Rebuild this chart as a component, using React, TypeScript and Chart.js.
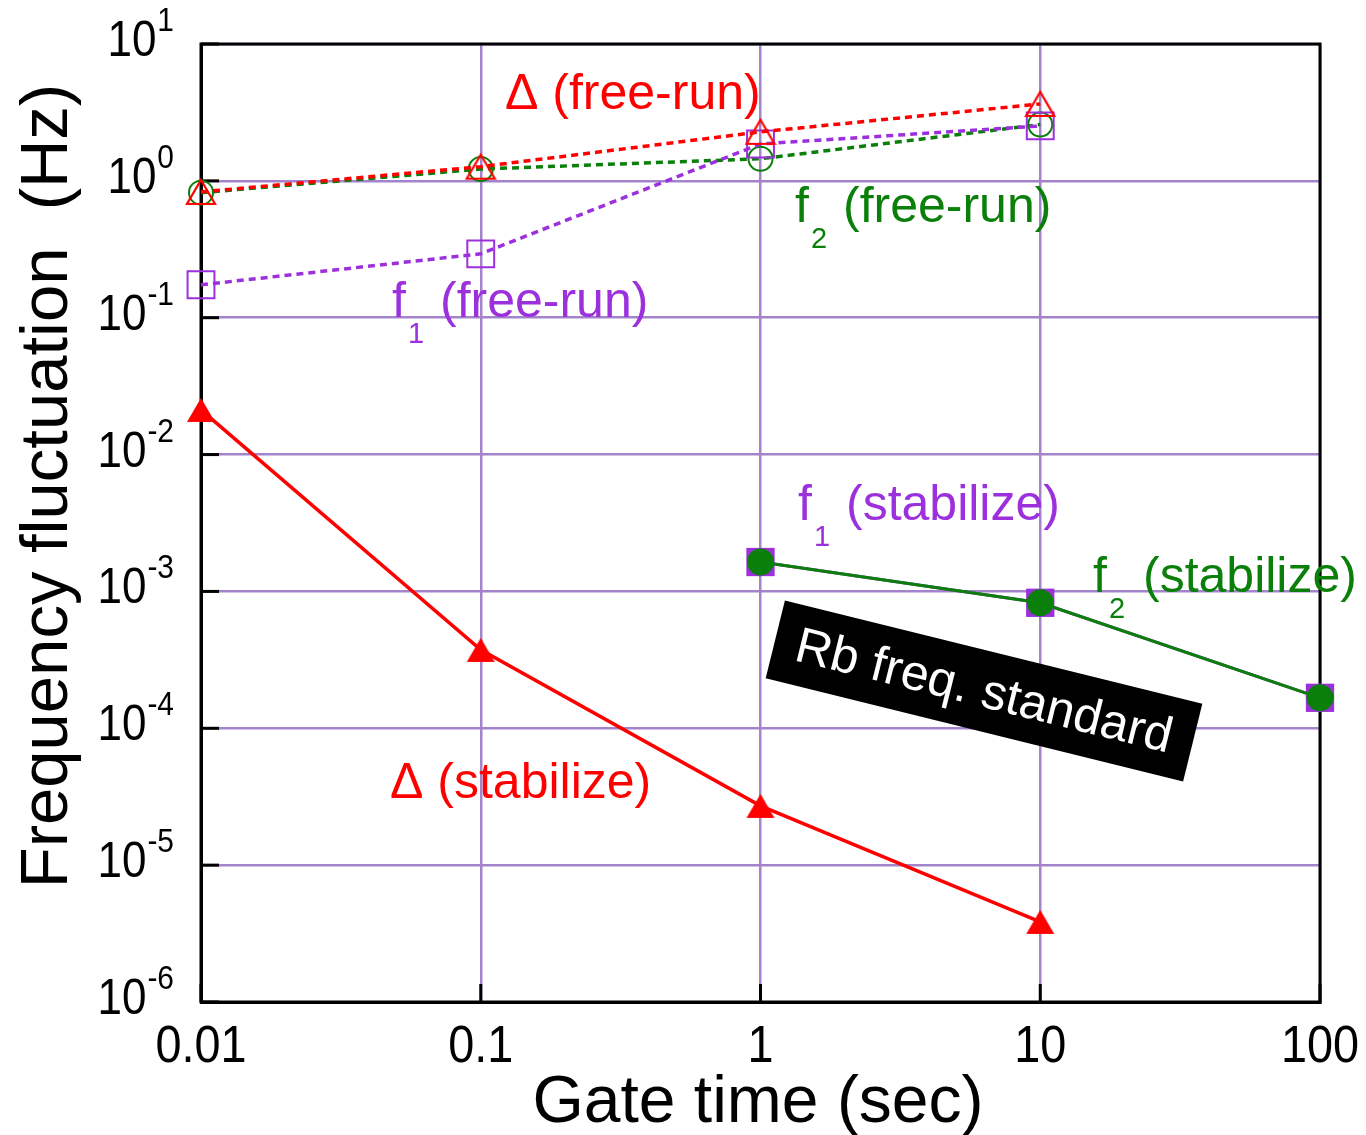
import React, { useEffect, useRef } from 'react';
import { Chart, registerables } from 'chart.js';

Chart.register(...registerables);

// ---- data ----
const freeRunGateTimes = [0.01, 0.1, 1, 10];
const deltaFreeRun = [0.83, 1.27, 2.28, 3.65];
const f1FreeRun = [0.174, 0.293, 1.86, 2.52];
const f2FreeRun = [0.82, 1.22, 1.45, 2.58];

const deltaStabGateTimes = [0.01, 0.1, 1, 10];
const deltaStabilize = [0.0212, 3.74e-4, 2.71e-5, 3.85e-6];

const rbGateTimes = [1, 10, 100];
const f1Stabilize = [1.64e-3, 8.26e-4, 1.67e-4];
const f2Stabilize = [1.64e-3, 8.26e-4, 1.67e-4];

const xTickValues = [0.01, 0.1, 1, 10, 100];
const xTickLabels = ['0.01', '0.1', '1', '10', '100'];
const yExponents = [1, 0, -1, -2, -3, -4, -5, -6];

// ---- styles ----
const RED = '#ff0000';
const GREEN = '#0a800a';
const PURPLE = '#9b30dc';
const GRID = '#a283cc';
const FONT = '"Liberation Sans", Arial, sans-serif';

const pts = (xs: number[], ys: number[]) => xs.map((x, i) => ({ x, y: ys[i] }));

function txt(ctx: CanvasRenderingContext2D, s: string, x: number, y: number, size: number, color: string, align: CanvasTextAlign = 'left', sx = 1) {
  ctx.save();
  ctx.font = `${size}px ${FONT}`;
  ctx.fillStyle = color;
  ctx.textAlign = align;
  ctx.textBaseline = 'alphabetic';
  ctx.translate(x, y);
  ctx.scale(sx, 1);
  ctx.fillText(s, 0, 0);
  ctx.restore();
}

function measure(ctx: CanvasRenderingContext2D, s: string, size: number) {
  ctx.save();
  ctx.font = `${size}px ${FONT}`;
  const w = ctx.measureText(s).width;
  ctx.restore();
  return w;
}

function mkTri(filled: boolean) {
  const c = document.createElement('canvas');
  c.width = 32;
  c.height = 28;
  const g = c.getContext('2d')!;
  g.beginPath();
  g.moveTo(16, 2);
  g.lineTo(30, 26);
  g.lineTo(2, 26);
  g.closePath();
  if (filled) {
    g.fillStyle = RED;
    g.fill();
  } else {
    g.strokeStyle = RED;
    g.lineWidth = 2.2;
    g.stroke();
  }
  return c;
}

export default function App() {
  const ref = useRef<HTMLCanvasElement>(null);

  useEffect(() => {
    const canvas = ref.current!;
    const openTri = mkTri(false);
    const fillTri = mkTri(true);

    const framePlugin = {
      id: 'frame',
      beforeDatasetsDraw(chart: any) {
        const { ctx, chartArea: a, scales } = chart;
        ctx.save();
        ctx.strokeStyle = '#000';
        ctx.lineWidth = 3;
        ctx.strokeRect(a.left, a.top, a.right - a.left, a.bottom - a.top);
        yExponents.forEach((e) => {
          const py = scales.y.getPixelForValue(Math.pow(10, e));
          ctx.beginPath();
          ctx.moveTo(a.left, py);
          ctx.lineTo(a.left + 18, py);
          ctx.stroke();
        });
        xTickValues.forEach((v) => {
          const px = scales.x.getPixelForValue(v);
          ctx.beginPath();
          ctx.moveTo(px, a.bottom);
          ctx.lineTo(px, a.bottom - 18);
          ctx.stroke();
        });
        ctx.restore();
      },
      afterDraw(chart: any) {
        const { ctx, scales } = chart;
        // y tick labels with superscripts
        yExponents.forEach((e) => {
          const py = scales.y.getPixelForValue(Math.pow(10, e));
          const sup = String(e);
          const supW = measure(ctx, sup, 34) * 0.88;
          txt(ctx, sup, 174 - supW, py - 13, 34, '#000', 'left', 0.88);
          txt(ctx, '10', 174 - supW - 1, py + 12, 50, '#000', 'right', 0.88);
        });
        // x tick labels
        xTickValues.forEach((v, i) => {
          const px = scales.x.getPixelForValue(v);
          txt(ctx, xTickLabels[i], px, 1062, 52, '#000', 'center', 0.9);
        });
        // axis titles
        txt(ctx, 'Gate time (sec)', 758, 1122, 66, '#000', 'center');
        ctx.save();
        ctx.translate(67, 486);
        ctx.rotate(-Math.PI / 2);
        txt(ctx, 'Frequency fluctuation  (Hz)', 0, 0, 67, '#000', 'center');
        ctx.restore();

        // annotations
        const F = 50;
        const S = 29;
        txt(ctx, '\u0394 (free-run)', 505, 109, F, RED);
        txt(ctx, '\u0394 (stabilize)', 390, 798, F, RED);

        const sub = (x: number, y: number, d: string, rest: string, color: string, restX: number) => {
          txt(ctx, 'f', x, y, F, color);
          txt(ctx, d, x + 16, y + 26, S, color);
          txt(ctx, rest, restX, y, F, color);
        };
        sub(392, 317, '1', '(free-run)', PURPLE, 440);
        sub(795, 222, '2', '(free-run)', GREEN, 843);
        sub(798, 520, '1', '(stabilize)', PURPLE, 846);
        sub(1093, 592, '2', '(stabilize)', GREEN, 1143);

        // Rb freq. standard box
        ctx.save();
        ctx.translate(984, 691);
        ctx.rotate((13.9 * Math.PI) / 180);
        ctx.fillStyle = '#000';
        ctx.fillRect(-215, -40, 430, 80);
        ctx.font = `50px ${FONT}`;
        ctx.fillStyle = '#fff';
        ctx.textAlign = 'center';
        ctx.textBaseline = 'middle';
        ctx.fillText('Rb freq. standard', 0, 2);
        ctx.restore();
      },
    };

    const chart = new Chart(canvas, {
      type: 'line',
      data: {
        datasets: [
          {
            label: 'Δ (free-run)',
            data: pts(freeRunGateTimes, deltaFreeRun),
            borderColor: RED,
            borderWidth: 3.5,
            borderDash: [7, 5],
            pointStyle: openTri as any,
            pointRadius: 14,
            clip: false,
          },
          {
            label: 'f1 (free-run)',
            data: pts(freeRunGateTimes, f1FreeRun),
            borderColor: PURPLE,
            borderWidth: 3.5,
            borderDash: [7, 5],
            pointStyle: 'rect',
            pointRadius: 19,
            pointBorderWidth: 2,
            pointBorderColor: PURPLE,
            pointBackgroundColor: 'rgba(0,0,0,0)',
            clip: false,
          },
          {
            label: 'f2 (free-run)',
            data: pts(freeRunGateTimes, f2FreeRun),
            borderColor: GREEN,
            borderWidth: 3.5,
            borderDash: [7, 5],
            pointStyle: 'circle',
            pointRadius: 12,
            pointBorderWidth: 2,
            pointBorderColor: GREEN,
            pointBackgroundColor: 'rgba(0,0,0,0)',
            clip: false,
          },
          {
            label: 'Δ (stabilize)',
            data: pts(deltaStabGateTimes, deltaStabilize),
            borderColor: RED,
            borderWidth: 3.5,
            pointStyle: fillTri as any,
            pointRadius: 14,
            clip: false,
          },
          {
            label: 'f2 (stabilize)',
            data: pts(rbGateTimes, f2Stabilize),
            borderColor: GREEN,
            borderWidth: 3,
            pointStyle: 'circle',
            pointRadius: 13.5,
            pointBorderWidth: 0,
            pointBackgroundColor: GREEN,
            clip: false,
          },
          {
            label: 'f1 (stabilize)',
            data: pts(rbGateTimes, f1Stabilize),
            borderColor: PURPLE,
            borderWidth: 3,
            pointStyle: 'rect',
            pointRadius: 20,
            pointBorderWidth: 0,
            pointBackgroundColor: PURPLE,
            clip: false,
          },
        ],
      },
      options: {
        animation: false,
        responsive: false,
        devicePixelRatio: 1,
        layout: { padding: { top: 44, right: 46, left: 0, bottom: 0 } },
        plugins: { legend: { display: false }, tooltip: { enabled: false } },
        elements: { line: { tension: 0 } },
        scales: {
          x: {
            type: 'logarithmic',
            min: 0.01,
            max: 100,
            afterBuildTicks: (s: any) => {
              s.ticks = xTickValues.map((v) => ({ value: v }));
            },
            afterFit: (s: any) => {
              s.height = 133;
            },
            ticks: { display: false },
            grid: { color: GRID, lineWidth: 2.5, drawTicks: false },
            border: { display: true, color: '#000', width: 3 },
          },
          y: {
            type: 'logarithmic',
            min: 1e-6,
            max: 10,
            afterBuildTicks: (s: any) => {
              s.ticks = yExponents.map((e) => ({ value: Math.pow(10, e) }));
            },
            afterFit: (s: any) => {
              s.width = 201;
            },
            ticks: { display: false },
            grid: { color: GRID, lineWidth: 2.5, drawTicks: false },
            border: { display: true, color: '#000', width: 3 },
          },
        },
      } as any,
      plugins: [framePlugin],
    });
    return () => chart.destroy();
  }, []);

  return (
    <div style={{ position: 'absolute', left: 0, top: 0, width: 1366, height: 1135, background: '#fff' }}>
      <canvas ref={ref} width={1366} height={1135} />
    </div>
  );
}
